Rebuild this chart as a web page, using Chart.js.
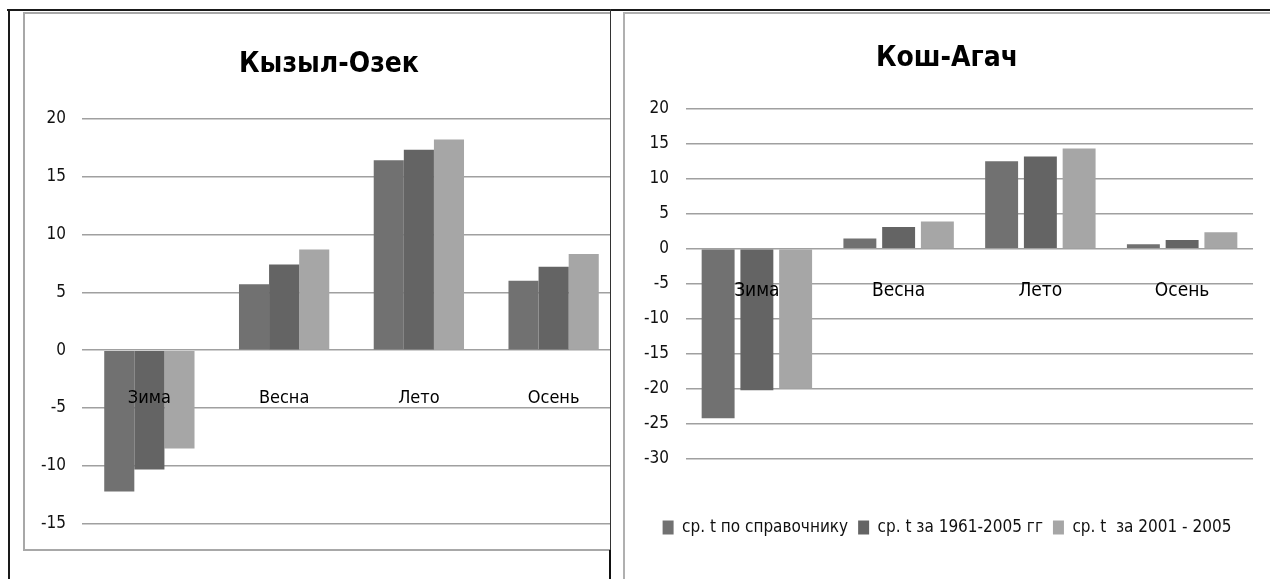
<!DOCTYPE html>
<html>
<head>
<meta charset="utf-8">
<title>Кызыл-Озек / Кош-Агач</title>
<script src="https://cdn.jsdelivr.net/npm/chart.js@4.4.1/dist/chart.umd.min.js"></script>
<style>
    body { margin: 0; background: #fff; width: 1270px; height: 579px; position: relative; overflow: hidden; }
    .line { position: absolute; }
    .box { position: absolute; overflow: hidden; box-sizing: border-box; }
    #leftBox { left: 23px; top: 12px; width: 588px; height: 539px; border-left: 2px solid #a8a8a8; border-top: 2px solid #a8a8a8; border-bottom: 2px solid #a8a8a8; }
    #rightBox { left: 623px; top: 12px; width: 647px; height: 567px; border-left: 2px solid #b0b0b0; border-top: 2px solid #b0b0b0; }
    .wrap { position: absolute; left: 0; top: 0; }
</style>
</head>
<body>
<div class="line" style="left:7px;top:9px;width:1263px;height:2px;background:#1a1a1a"></div>
<div class="line" style="left:8px;top:9px;width:2px;height:570px;background:#1a1a1a"></div>
<div id="leftBox" class="box"><div class="wrap" style="width:616px;height:536px"><canvas id="kyzylChart"></canvas></div></div>
<div class="line" style="left:610px;top:9px;width:1px;height:541px;background:#333"></div>
<div class="line" style="left:609px;top:550px;width:2px;height:29px;background:#111"></div>
<div id="rightBox" class="box"><div class="wrap" style="width:646px;height:566px"><canvas id="koshChart"></canvas></div></div>

<script>
// ========================================
// Data
// ========================================
const seasons = ['Зима', 'Весна', 'Лето', 'Осень'];
const seriesNames = ['ср. t по справочнику', 'ср. t за 1961-2005 гг', 'ср. t  за 2001 - 2005'];
const seriesColors = ['#717171', '#646464', '#a6a6a6'];

// Кызыл-Озек
const kyzylRef = [-12.2, 5.7, 16.4, 6.0];
const kyzyl1961 = [-10.3, 7.4, 17.3, 7.2];
const kyzyl2001 = [-8.5, 8.7, 18.2, 8.3];
const kyzylTicks = [-15, 20, 5];

// Кош-Агач
const koshRef = [-24.2, 1.45, 12.5, 0.65];
const kosh1961 = [-20.2, 3.1, 13.15, 1.25];
const kosh2001 = [-19.9, 3.9, 14.3, 2.35];
const koshTicks = [-30, 20, 5];

const FONT = "'Liberation Sans Narrow', 'DejaVu Sans Condensed', sans-serif";

function makeDatasets(values, barPct, catPct) {
    return values.map((data, i) => ({
        label: seriesNames[i],
        data: data,
        backgroundColor: seriesColors[i],
        borderWidth: 0,
        barPercentage: barPct,
        categoryPercentage: catPct
    }));
}

function makeOptions(cfg) {
    return {
        responsive: true,
        maintainAspectRatio: false,
        animation: false,
        devicePixelRatio: 1,
        layout: { padding: cfg.padding },
        plugins: {
            title: {
                display: true,
                text: cfg.title,
                color: '#000',
                font: { family: FONT, size: 28, weight: 'bold' },
                padding: cfg.titlePadding
            },
            legend: cfg.legend,
            tooltip: { enabled: false }
        },
        scales: {
            x: {
                position: { y: 0 },
                grid: { display: false, drawTicks: false },
                border: { display: false },
                // season labels are drawn over the bars
                ticks: { z: 1, color: '#000', padding: cfg.labelPad, font: { family: FONT, size: cfg.labelSize } }
            },
            y: {
                min: cfg.ticks[0],
                max: cfg.ticks[1],
                afterFit: (scale) => { scale.width = cfg.axisWidth; },
                grid: { color: '#a0a0a0', lineWidth: 1.5, drawTicks: false },
                border: { display: false },
                ticks: { stepSize: cfg.ticks[2], color: '#111', padding: cfg.tickPad, font: { family: FONT, size: 17 } }
            }
        }
    };
}

// Left chart (clipped on the right like in the source document)
new Chart(document.getElementById('kyzylChart'), {
    type: 'bar',
    data: { labels: seasons, datasets: makeDatasets([kyzylRef, kyzyl1961, kyzyl2001], 1.0, 0.67) },
    options: makeOptions({
        title: 'Кызыл-Озек',
        ticks: kyzylTicks,
        padding: { left: 12, right: 20, top: 0, bottom: 24 },
        titlePadding: { top: 34, bottom: 37 },
        legend: { display: false },
        labelPad: 37,
        labelSize: 18,
        axisWidth: 45,
        tickPad: 16
    })
});

// Right chart with legend
new Chart(document.getElementById('koshChart'), {
    type: 'bar',
    data: { labels: seasons, datasets: makeDatasets([koshRef, kosh1961, kosh2001], 0.85, 0.82) },
    options: makeOptions({
        title: 'Кош-Агач',
        ticks: koshTicks,
        padding: { left: 16, right: 18, top: 0, bottom: 34 },
        titlePadding: { top: 28, bottom: 33 },
        legend: {
            display: true,
            position: 'bottom',
            // empty legend title only adds room above the legend row
            title: { display: true, text: '', padding: { top: 38, bottom: 0 }, font: { size: 10 } },
            labels: {
                color: '#111',
                boxWidth: 11,
                boxHeight: 14,
                padding: 10,
                font: { family: FONT, size: 17 }
            }
        },
        labelPad: 31,
        labelSize: 19,
        axisWidth: 45,
        tickPad: 17
    })
});
</script>
</body>
</html>
